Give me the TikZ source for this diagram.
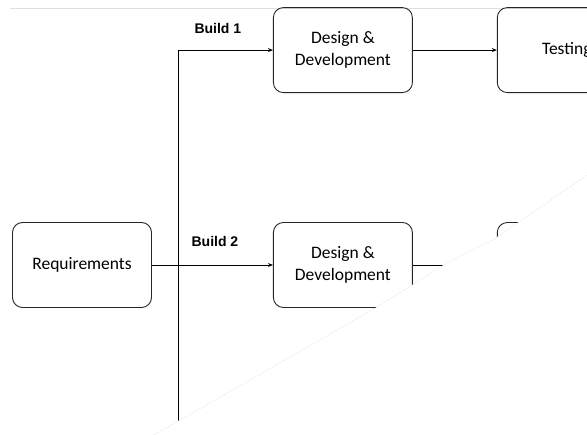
\documentclass[tikz,border=0pt]{standalone}
\usepackage{fontspec}
\setmainfont{Carlito}
\newfontfamily\buildfont{Liberation Sans}
\usetikzlibrary{positioning, arrows.meta}

\begin{document}
\begin{tikzpicture}[->,>={Stealth[length=5pt,width=4pt]},line width=0.9pt,node distance=84pt]
  \tikzset{phase/.style={draw=black!85,rounded corners=10pt,minimum width=139pt,minimum height=85pt,align=center,font=\fontsize{17.5}{22}\selectfont},
           buildlbl/.style={font=\buildfont\bfseries\fontsize{14}{16}\selectfont,text=black}}
  \clip (0,0) rectangle (587pt,-435pt);
  \useasboundingbox (0,0) rectangle (587pt,-435pt);
  \draw[-,black!12,line width=0.5pt] (10pt,-8pt) -- (587pt,-8pt);

  \node[phase] (Req) at (82pt,-265pt) {Requirements};
  \node[phase] (Dev2) [right=121pt of Req] {Design \&\\Development};
  \node[phase] (Dev1) [above=129pt of Dev2] {Design \&\\Development};
  \node[phase] (Test1) [right=84pt of Dev1] {Testing};
  \node[phase] (Test2) [right=84pt of Dev2] {Testing};

  \coordinate[right=26pt of Req] (Fork);
  \coordinate (B1) at (Fork |- Dev1);
  \coordinate[below=170pt of Fork] (B3);

  \draw[-] (B1) -- (B3);
  \path (B1) edge node[buildlbl, pos=0.42, above=13pt] {Build 1} (Dev1)
        (Req) edge (Dev2)
        (Dev1) edge (Test1)
        (Dev2) edge (Test2);
  \node[buildlbl] (Lbl2) at ([xshift=-58pt,yshift=24pt]Dev2.west) {Build 2};

  % torn-off corner of the page
  \fill[white,draw=black!10,line width=0.4pt,dash pattern=on 3pt off 1pt] (140pt,-443pt) -- (377pt,-307pt) -- (447pt,-263pt)
        -- (493pt,-240pt) -- (587pt,-175pt) -- (600pt,-175pt) -- (600pt,-450pt) -- (140pt,-450pt) -- cycle;
\end{tikzpicture}
\end{document}
